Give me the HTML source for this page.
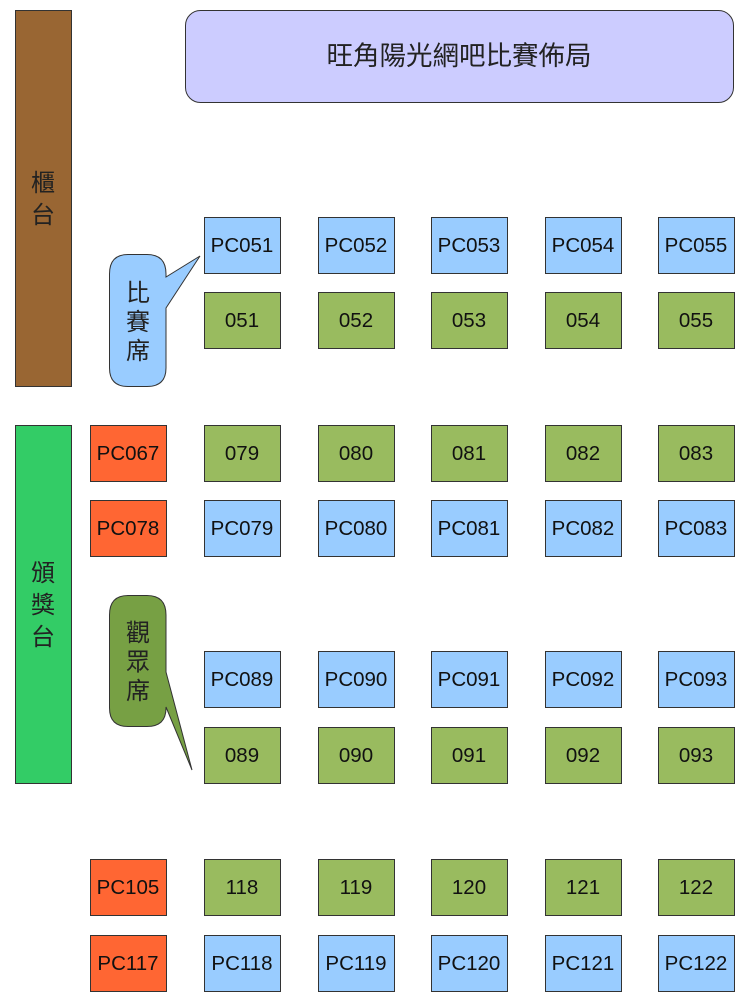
<!DOCTYPE html>
<html><head><meta charset="utf-8"><style>body{margin:0;background:#fff}svg{display:block}</style></head><body>
<svg width="750" height="1000" xmlns="http://www.w3.org/2000/svg" font-family="Liberation Sans, Noto Sans CJK TC, sans-serif">
<rect x="15.5" y="10.5" width="56" height="376" fill="#996633" stroke="#333"/>
<text x="43" y="191" font-size="24" text-anchor="middle" fill="#222">櫃</text>
<text x="43" y="223" font-size="24" text-anchor="middle" fill="#222">台</text>
<rect x="15.5" y="425.5" width="56" height="358" fill="#33cc66" stroke="#333"/>
<text x="43" y="581" font-size="24" text-anchor="middle" fill="#222">頒</text>
<text x="43" y="613" font-size="24" text-anchor="middle" fill="#222">獎</text>
<text x="43" y="645" font-size="24" text-anchor="middle" fill="#222">台</text>
<rect x="185.5" y="10.5" width="548" height="92" rx="15" fill="#ccccff" stroke="#333"/>
<text x="459" y="65" font-size="26.5" text-anchor="middle" fill="#222">旺角陽光網吧比賽佈局</text>
<path d="M128,254.5 H147 Q166,254.5 166,274 V277 L200,256 L166,308 V368 Q166,386.5 147,386.5 H128 Q109.5,386.5 109.5,368 V274 Q109.5,254.5 128,254.5 Z" fill="#99ccff" stroke="#333"/>
<text x="138" y="301" font-size="24" text-anchor="middle" fill="#222">比</text>
<text x="138" y="330" font-size="24" text-anchor="middle" fill="#222">賽</text>
<text x="138" y="359" font-size="24" text-anchor="middle" fill="#222">席</text>
<path d="M128,595.5 H147 Q166,595.5 166,615 V672 L192,770 L166,707 V708 Q166,726.5 147,726.5 H128 Q109.5,726.5 109.5,708 V615 Q109.5,595.5 128,595.5 Z" fill="#77a044" stroke="#333"/>
<text x="138" y="641" font-size="24" text-anchor="middle" fill="#222">觀</text>
<text x="138" y="670" font-size="24" text-anchor="middle" fill="#222">眾</text>
<text x="138" y="699" font-size="24" text-anchor="middle" fill="#222">席</text>
<g stroke="#333">
<rect x="90.5" y="425.5" width="76" height="56" fill="#ff6633"/><rect x="90.5" y="500.5" width="76" height="56" fill="#ff6633"/>
<rect x="90.5" y="859.5" width="76" height="56" fill="#ff6633"/><rect x="90.5" y="935.5" width="76" height="56" fill="#ff6633"/>
<rect x="204.5" y="217.5" width="76" height="56" fill="#99ccff"/><rect x="318.5" y="217.5" width="76" height="56" fill="#99ccff"/><rect x="431.5" y="217.5" width="76" height="56" fill="#99ccff"/><rect x="545.5" y="217.5" width="76" height="56" fill="#99ccff"/><rect x="658.5" y="217.5" width="76" height="56" fill="#99ccff"/>
<rect x="204.5" y="292.5" width="76" height="56" fill="#99bb5f"/><rect x="318.5" y="292.5" width="76" height="56" fill="#99bb5f"/><rect x="431.5" y="292.5" width="76" height="56" fill="#99bb5f"/><rect x="545.5" y="292.5" width="76" height="56" fill="#99bb5f"/><rect x="658.5" y="292.5" width="76" height="56" fill="#99bb5f"/>
<rect x="204.5" y="425.5" width="76" height="56" fill="#99bb5f"/><rect x="318.5" y="425.5" width="76" height="56" fill="#99bb5f"/><rect x="431.5" y="425.5" width="76" height="56" fill="#99bb5f"/><rect x="545.5" y="425.5" width="76" height="56" fill="#99bb5f"/><rect x="658.5" y="425.5" width="76" height="56" fill="#99bb5f"/>
<rect x="204.5" y="500.5" width="76" height="56" fill="#99ccff"/><rect x="318.5" y="500.5" width="76" height="56" fill="#99ccff"/><rect x="431.5" y="500.5" width="76" height="56" fill="#99ccff"/><rect x="545.5" y="500.5" width="76" height="56" fill="#99ccff"/><rect x="658.5" y="500.5" width="76" height="56" fill="#99ccff"/>
<rect x="204.5" y="651.5" width="76" height="56" fill="#99ccff"/><rect x="318.5" y="651.5" width="76" height="56" fill="#99ccff"/><rect x="431.5" y="651.5" width="76" height="56" fill="#99ccff"/><rect x="545.5" y="651.5" width="76" height="56" fill="#99ccff"/><rect x="658.5" y="651.5" width="76" height="56" fill="#99ccff"/>
<rect x="204.5" y="727.5" width="76" height="56" fill="#99bb5f"/><rect x="318.5" y="727.5" width="76" height="56" fill="#99bb5f"/><rect x="431.5" y="727.5" width="76" height="56" fill="#99bb5f"/><rect x="545.5" y="727.5" width="76" height="56" fill="#99bb5f"/><rect x="658.5" y="727.5" width="76" height="56" fill="#99bb5f"/>
<rect x="204.5" y="859.5" width="76" height="56" fill="#99bb5f"/><rect x="318.5" y="859.5" width="76" height="56" fill="#99bb5f"/><rect x="431.5" y="859.5" width="76" height="56" fill="#99bb5f"/><rect x="545.5" y="859.5" width="76" height="56" fill="#99bb5f"/><rect x="658.5" y="859.5" width="76" height="56" fill="#99bb5f"/>
<rect x="204.5" y="935.5" width="76" height="56" fill="#99ccff"/><rect x="318.5" y="935.5" width="76" height="56" fill="#99ccff"/><rect x="431.5" y="935.5" width="76" height="56" fill="#99ccff"/><rect x="545.5" y="935.5" width="76" height="56" fill="#99ccff"/><rect x="658.5" y="935.5" width="76" height="56" fill="#99ccff"/>
</g>
<g font-size="20.5" text-anchor="middle" fill="#111">
<text x="128" y="460">PC067</text><text x="128" y="535">PC078</text><text x="128" y="894">PC105</text><text x="128" y="970">PC117</text>
<text x="242" y="252">PC051</text><text x="356" y="252">PC052</text><text x="469" y="252">PC053</text><text x="583" y="252">PC054</text><text x="696" y="252">PC055</text>
<text x="242" y="327">051</text><text x="356" y="327">052</text><text x="469" y="327">053</text><text x="583" y="327">054</text><text x="696" y="327">055</text>
<text x="242" y="460">079</text><text x="356" y="460">080</text><text x="469" y="460">081</text><text x="583" y="460">082</text><text x="696" y="460">083</text>
<text x="242" y="535">PC079</text><text x="356" y="535">PC080</text><text x="469" y="535">PC081</text><text x="583" y="535">PC082</text><text x="696" y="535">PC083</text>
<text x="242" y="686">PC089</text><text x="356" y="686">PC090</text><text x="469" y="686">PC091</text><text x="583" y="686">PC092</text><text x="696" y="686">PC093</text>
<text x="242" y="762">089</text><text x="356" y="762">090</text><text x="469" y="762">091</text><text x="583" y="762">092</text><text x="696" y="762">093</text>
<text x="242" y="894">118</text><text x="356" y="894">119</text><text x="469" y="894">120</text><text x="583" y="894">121</text><text x="696" y="894">122</text>
<text x="242" y="970">PC118</text><text x="356" y="970">PC119</text><text x="469" y="970">PC120</text><text x="583" y="970">PC121</text><text x="696" y="970">PC122</text>
</g>
</svg>
</body></html>
